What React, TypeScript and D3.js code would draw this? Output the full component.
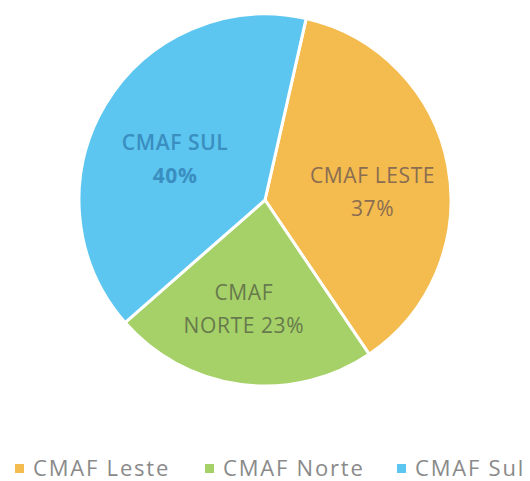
import React from "react";
import * as d3 from "d3";

const categories = ["CMAF Leste", "CMAF Norte", "CMAF Sul"];
const values = [37, 23, 40];
const labelLines = [["CMAF LESTE", "37%"], ["CMAF", "NORTE 23%"], ["CMAF SUL", "40%"]];
const colors = ["#F4BC4E", "#A6D168", "#5CC6F0"];
const labelColors = ["#8A6D52", "#667A4C", "#3A8EC0"];

const App = () => {
  const width = 530;
  const height = 481;
  const cx = 265;
  const cy = 200;
  const r = 186;

  const pie = d3.pie<number>().sort(null).startAngle(0.223).endAngle(0.223 + 2 * Math.PI);
  const arcs = pie(values);
  const arc = d3.arc<d3.PieArcDatum<number>>().innerRadius(0).outerRadius(r);
  const labelArc = d3.arc<d3.PieArcDatum<number>>().innerRadius(r * 0.55).outerRadius(r * 0.55);

  // label nudges from the centroid
  const offsets = [[7, 2], [-8, -1], [-2, 2]];
  const legendX = [15, 205, 397];

  return (
    <svg width={width} height={height} style={{ position: "absolute", left: 0, top: 0, background: "#fff" }}
      fontFamily="'Open Sans', sans-serif">
      <g transform={`translate(${cx},${cy})`}>
        {arcs.map((a, i) => (
          <path key={i} d={arc(a) || ""} fill={colors[i]} stroke="#fff" strokeWidth={3} />
        ))}
        {arcs.map((a, i) => {
          const [x, y] = labelArc.centroid(a);
          const off = offsets[i];
          return (
            <text key={i} x={x + off[0]} y={y + off[1]} textAnchor="middle" fill={labelColors[i]}
              fontSize={21} fontWeight={i === 2 ? 600 : 400} letterSpacing={0.6}>
              {labelLines[i].map((t, j) => (
                <tspan key={j} x={x + off[0]} dy={j === 0 ? 0 : 33} fontWeight={i === 2 && j === 1 ? 700 : undefined}>{t}</tspan>
              ))}
            </text>
          );
        })}
      </g>
      {categories.map((c, i) => (
        <g key={c} transform={`translate(${legendX[i]},468)`}>
          <rect x={0} y={-4} width={9} height={9} fill={colors[i]} />
          <text x={18} y={8} fontSize={22} fill="#8a8a8a" letterSpacing={1.8}>{c}</text>
        </g>
      ))}
    </svg>
  );
};

export default App;
